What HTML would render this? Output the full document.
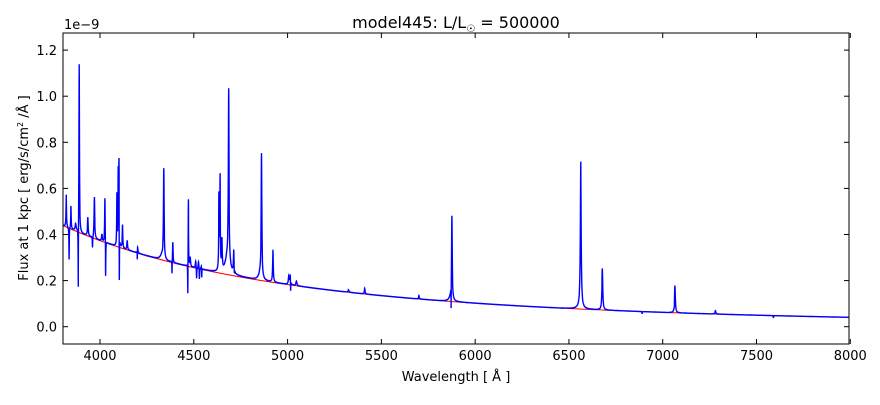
<!DOCTYPE html>
<html><head><meta charset="utf-8"><style>
body{margin:0;background:#fff;}
svg text{font-family:"DejaVu Sans","Liberation Sans",sans-serif;fill:#000;}
</style></head><body>
<svg id="s" width="880" height="400" xmlns="http://www.w3.org/2000/svg">
<rect width="880" height="400" fill="#fff"/>
<defs><clipPath id="c"><rect x="63" y="33" width="786" height="311"/></clipPath></defs>
<g id="plot" clip-path="url(#c)">
<path id="red" fill="none" stroke="#f00" stroke-width="1"/>
<path id="blue" fill="none" stroke="#00f" stroke-width="1.4"/>
</g>
<rect x="63" y="33" width="786" height="311" fill="none" stroke="#000" stroke-width="1"/>
<g id="ticks" stroke="#000" stroke-width="1"></g>
<g id="labels" font-size="13"></g>
<text x="64" y="29" font-size="13">1e−9</text>
<text x="456" y="28" font-size="16" text-anchor="middle">model445: L/L<tspan font-size="10" dy="4">☉</tspan><tspan dy="-4"> = 500000</tspan></text>
<text x="456" y="381" font-size="13" text-anchor="middle">Wavelength [ Å ]</text>
<text transform="translate(28,188) rotate(-90)" font-size="13" text-anchor="middle">Flux at 1 kpc [ erg/s/cm<tspan font-size="8" dy="-5">2</tspan><tspan dy="5"> /Å ]</tspan></text>
</svg>
<script>
var X=function(w){return 62.5+(w-3800)*0.18757;};
var Y=function(f){return 326.7-f*230.5;};
function cont(w){return 0.44*Math.pow(w/3800,-3.2);}
var L=[[3820,0.14,1.5],[3835,-0.14,1],[3845,0.1,1.5],[3870,0.03,3],[3889,0.74,1.5],[3884,-0.3,1],
[3935,0.08,2],[3970,0.18,2],[3960,-0.05,1],[4010,0.03,2],[4026,0.2,1.5],[4030,-0.17,1],[4090,0.22,1.2],
[4097,0.3,1.2],[4101,0.4,1.5],[4103,-0.3,0.8],[4120,0.1,1.5],[4145,0.04,2],[4200,0.04,2],[4199,-0.06,0.8],
[4340,0.39,2],[4330,0.02,10],[4388,0.09,1.5],[4384,-0.06,0.8],[4471,0.3,1.2],[4468,-0.16,0.8],[4481,0.04,2],
[4510,0.03,2],[4515,-0.05,1],[4525,0.03,2],[4530,-0.05,1],[4541,0.03,2],[4542,-0.06,1],[4634,0.32,1.5],
[4640,0.4,1.5],[4650,0.13,2],[4686,0.74,2],[4680,0.08,14],[4713,0.1,2],[4716,-0.03,1],[4861,0.53,2],[4855,0.03,10],
[4922,0.14,2],[5007,0.04,3],[5015,0.05,2],[5016,-0.07,0.8],[5047,0.02,3],[5325,0.01,3],[5411,0.025,2],[5700,0.015,2],
[5876,0.36,2],[5870,0.02,10],[5872,-0.12,0.6],[6563,0.63,2.5],[6560,0.01,15],[6678,0.18,2.5],[7065,0.12,2.5],
[7281,0.015,2.5],[7062,-0.02,1],[6890,-0.01,1],[7590,-0.01,1]];
var r="",b="";
for(var w=3800;w<=8000;w+=0.5){var c=cont(w),f=c;
for(var i=0;i<L.length;i++){var d=(w-L[i][0])/L[i][2];f+=L[i][1]/(1+d*d);}
r+=(w==3800?"M":"L")+X(w).toFixed(1)+" "+Y(c).toFixed(1);
b+=(w==3800?"M":"L")+X(w).toFixed(1)+" "+Y(f).toFixed(1);}
document.getElementById("red").setAttribute("d",r);
document.getElementById("blue").setAttribute("d",b);
var t="",lb="";
for(var w=4000;w<=8000;w+=500){var x=X(w);
t+='<line x1="'+x+'" y1="344" x2="'+x+'" y2="339"/><line x1="'+x+'" y1="33" x2="'+x+'" y2="38"/>';
lb+='<text x="'+x+'" y="360" text-anchor="middle">'+w+'</text>';}
for(var k=0;k<=6;k++){var y=Y(k*0.2);
t+='<line x1="63" y1="'+y+'" x2="68" y2="'+y+'"/><line x1="849" y1="'+y+'" x2="844" y2="'+y+'"/>';
lb+='<text x="57" y="'+(y+5)+'" text-anchor="end">'+(k*0.2).toFixed(1)+'</text>';}
document.getElementById("ticks").innerHTML=t;
document.getElementById("labels").innerHTML=lb;
</script>
</body></html>
